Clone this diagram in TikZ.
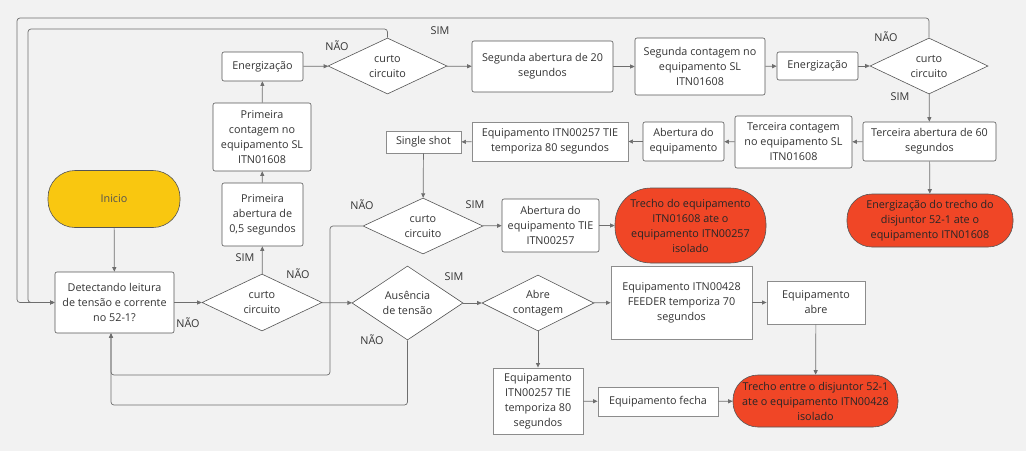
\documentclass[tikz,border=0pt]{standalone}
\usepackage{fontspec}
\setmainfont{Open Sans}
\usetikzlibrary{shapes.geometric,arrows.meta,positioning}

\definecolor{fundo}{HTML}{F2F2F2}
\definecolor{txt}{HTML}{333333}
\definecolor{borda}{HTML}{555555}
\definecolor{bordab}{HTML}{8C8C8C}
\definecolor{fio}{HTML}{6E6E6E}
\definecolor{inicio}{HTML}{F9C710}
\definecolor{alerta}{HTML}{F04626}

\tikzset{
  base/.style={font=\fontsize{10.8}{15}\selectfont, text=txt, align=center, inner sep=0pt},
  proc/.style={base, rectangle, rounded corners=2pt, draw=borda, line width=0.6pt, fill=white},
  plain/.style={base, rectangle, draw=bordab, line width=0.9pt, fill=white},
  decision/.style={base, diamond, aspect=2, draw=borda, line width=0.6pt, fill=white},
  terminal/.style={base, rectangle, draw=borda, line width=0.6pt},
  flow/.style={draw=fio, line width=0.7pt, -{Triangle[length=4.5pt,width=4pt]}},
  answer/.style={base}
}

\begin{document}
\begin{tikzpicture}[x=1pt,y=-1pt]
  \fill[fundo] (0,0) rectangle (1026,451);
  \useasboundingbox (0,0) rectangle (1026,451);

  % coluna da esquerda
  \node[terminal, fill=inicio, minimum width=132pt, minimum height=57pt, rounded corners=27pt, text=txt!85] (inicio) at (114,199) {Inicio};
  \node[proc, minimum width=119pt, minimum height=61pt] (detecta) at (114.5,302.5) {Detectando leitura\\de tensão e corrente\\no 52-1?};
  \node[decision, minimum width=120pt, minimum height=57pt] (curto1) at (262,302.5) {curto\\circuito};
  \node[proc, minimum width=81pt, minimum height=63pt] (abert1) at (262.5,214.5) {Primeira\\abertura de\\0,5 segundos};
  \node[proc, minimum width=98pt, minimum height=68pt] (cont1) at (262,137) {Primeira\\contagem no\\equipamento SL\\ITN01608};
  \node[proc, minimum width=81pt, minimum height=29pt] (energ1) at (262.5,66.5) {Energização};

  % linha de cima
  \node[decision, minimum width=119pt, minimum height=56pt] (curto2) at (387.5,66) {curto\\circuito};
  \node[proc, minimum width=141pt, minimum height=51pt] (abert2) at (542.5,66.5) {Segunda abertura de 20\\segundos};
  \node[proc, minimum width=130pt, minimum height=57pt] (cont2) at (700,66.5) {Segunda contagem no\\equipamento SL\\ITN01608};
  \node[proc, minimum width=81pt, minimum height=28pt] (energ2) at (817.5,66) {Energização};
  \node[decision, minimum width=118pt, minimum height=56pt] (curto3) at (929,66) {curto\\circuito};

  % segunda linha
  \node[proc, minimum width=133pt, minimum height=39pt] (abert3) at (929.5,141.5) {Terceira abertura de 60\\segundos};
  \node[proc, minimum width=117pt, minimum height=52pt] (cont3) at (793.5,142) {Terceira contagem\\no equipamento SL\\ITN01608};
  \node[proc, minimum width=81pt, minimum height=39pt] (abreq) at (683.5,141.5) {Abertura do\\equipamento};
  \node[plain, minimum width=156pt, minimum height=39pt] (temp1) at (550,141.5) {Equipamento ITN00257 TIE\\temporiza 80 segundos};
  \node[plain, minimum width=75pt, minimum height=22pt] (single) at (423.5,142) {Single shot};

  % terceira linha
  \node[decision, minimum width=120pt, minimum height=56pt] (curto4) at (423,226) {curto\\circuito};
  \node[proc, minimum width=97pt, minimum height=53pt] (abtie) at (550.5,225.5) {Abertura do\\equipamento TIE\\ITN00257};
  \node[terminal, fill=alerta, text=black!85, minimum width=151pt, minimum height=75pt, rounded corners=36pt] (trecho1) at (690.5,225.5) {Trecho do equipamento\\ITN01608 ate o\\equipamento ITN00257\\isolado};
  \node[terminal, fill=alerta, text=black!85, minimum width=166pt, minimum height=53pt, rounded corners=25pt] (energtr) at (930,220.5) {Energização do trecho do\\disjuntor 52-1 ate o\\equipamento ITN01608};

  % linha de baixo
  \node[decision, minimum width=111pt, minimum height=74pt] (ausencia) at (407.5,303) {Ausência\\de tensão};
  \node[decision, minimum width=112pt, minimum height=56pt] (abrecont) at (538,303) {Abre\\contagem};
  \node[plain, minimum width=141pt, minimum height=73pt] (temp70) at (681.5,302.5) {Equipamento ITN00428\\FEEDER temporiza 70\\segundos};
  \node[plain, minimum width=98pt, minimum height=43pt] (eqabre) at (816,302.5) {Equipamento\\abre};
  \node[plain, minimum width=90pt, minimum height=66pt] (temp80) at (538,401) {Equipamento\\ITN00257 TIE\\temporiza 80\\segundos};
  \node[plain, minimum width=120pt, minimum height=29pt] (eqfecha) at (658,401.5) {Equipamento fecha};
  \node[terminal, fill=alerta, text=black!85, minimum width=165pt, minimum height=52pt, rounded corners=25pt] (trecho2) at (815.5,401) {Trecho entre o disjuntor 52-1\\ate o equipamento ITN00428\\isolado};

  \coordinate (ret1) at (111,375);
  \coordinate (ret2) at (111,405);

  % conexoes
  \draw[flow] (inicio) -- (detecta);
  \draw[flow] (detecta) -- (curto1);
  \draw[flow] (curto1) -- (abert1);
  \draw[flow] (abert1) -- (cont1);
  \draw[flow] (cont1) -- (energ1);
  \draw[flow] (energ1) -- (curto2);
  \draw[flow] (curto2) -- (abert2);
  \draw[flow] (abert2) -- (cont2);
  \draw[flow] (cont2) -- (energ2);
  \draw[flow] (energ2) -- (curto3);
  \draw[flow] (curto3) -- (abert3);
  \draw[flow] (abert3) -- (cont3);
  \draw[flow] (cont3) -- (abreq);
  \draw[flow] (abreq) -- (temp1);
  \draw[flow] (temp1) -- (single);
  \draw[flow] (abert3) -- (energtr);
  \draw[flow] (single) -- (curto4);
  \draw[flow] (curto4) -- (abtie);
  \draw[flow] (abtie) -- (trecho1);
  \draw[flow] (curto1) -- (ausencia);
  \draw[flow] (ausencia) -- (abrecont);
  \draw[flow] (abrecont) -- (temp70);
  \draw[flow] (temp70) -- (eqabre);
  \draw[flow] (eqabre) -- (trecho2);
  \draw[flow] (abrecont) -- (temp80);
  \draw[flow] (temp80) -- (eqfecha);
  \draw[flow] (eqfecha) -- (trecho2);

  % retornos
  \draw[flow, rounded corners=3pt] (curto2.north) -- (387.5,29) -- (28,29) -- (28,302.5) -- (detecta.west);
  \draw[flow, rounded corners=3pt] (curto3.north) -- (929,18) -- (17,18) -- (17,302.5) -- (detecta.west);
  \draw[flow, rounded corners=3pt] (curto4.west) -- (330,226) -- (330,375) -- (ret1) -- (ret1 |- detecta.south);
  \draw[flow, rounded corners=3pt] (ausencia.south) -- (ausencia.south |- ret2) -- (ret2) -- (ret2 |- detecta.south);

  % respostas
  \node[answer] (nao1) at (188,323) {NÃO};
  \node[answer] (sim1) at (245,258) {SIM};
  \node[answer] (nao2) at (298,274) {NÃO};
  \node[answer] (nao3) at (337,46) {NÃO};
  \node[answer] (sim2) at (440,31) {SIM};
  \node[answer] (nao4) at (886,37) {NÃO};
  \node[answer] (sim3) at (900,97) {SIM};
  \node[answer] (nao5) at (362,205) {NÃO};
  \node[answer] (sim4) at (475,205) {SIM};
  \node[answer] (sim5) at (454,277) {SIM};
  \node[answer] (nao6) at (372,340) {NÃO};
\end{tikzpicture}
\end{document}
